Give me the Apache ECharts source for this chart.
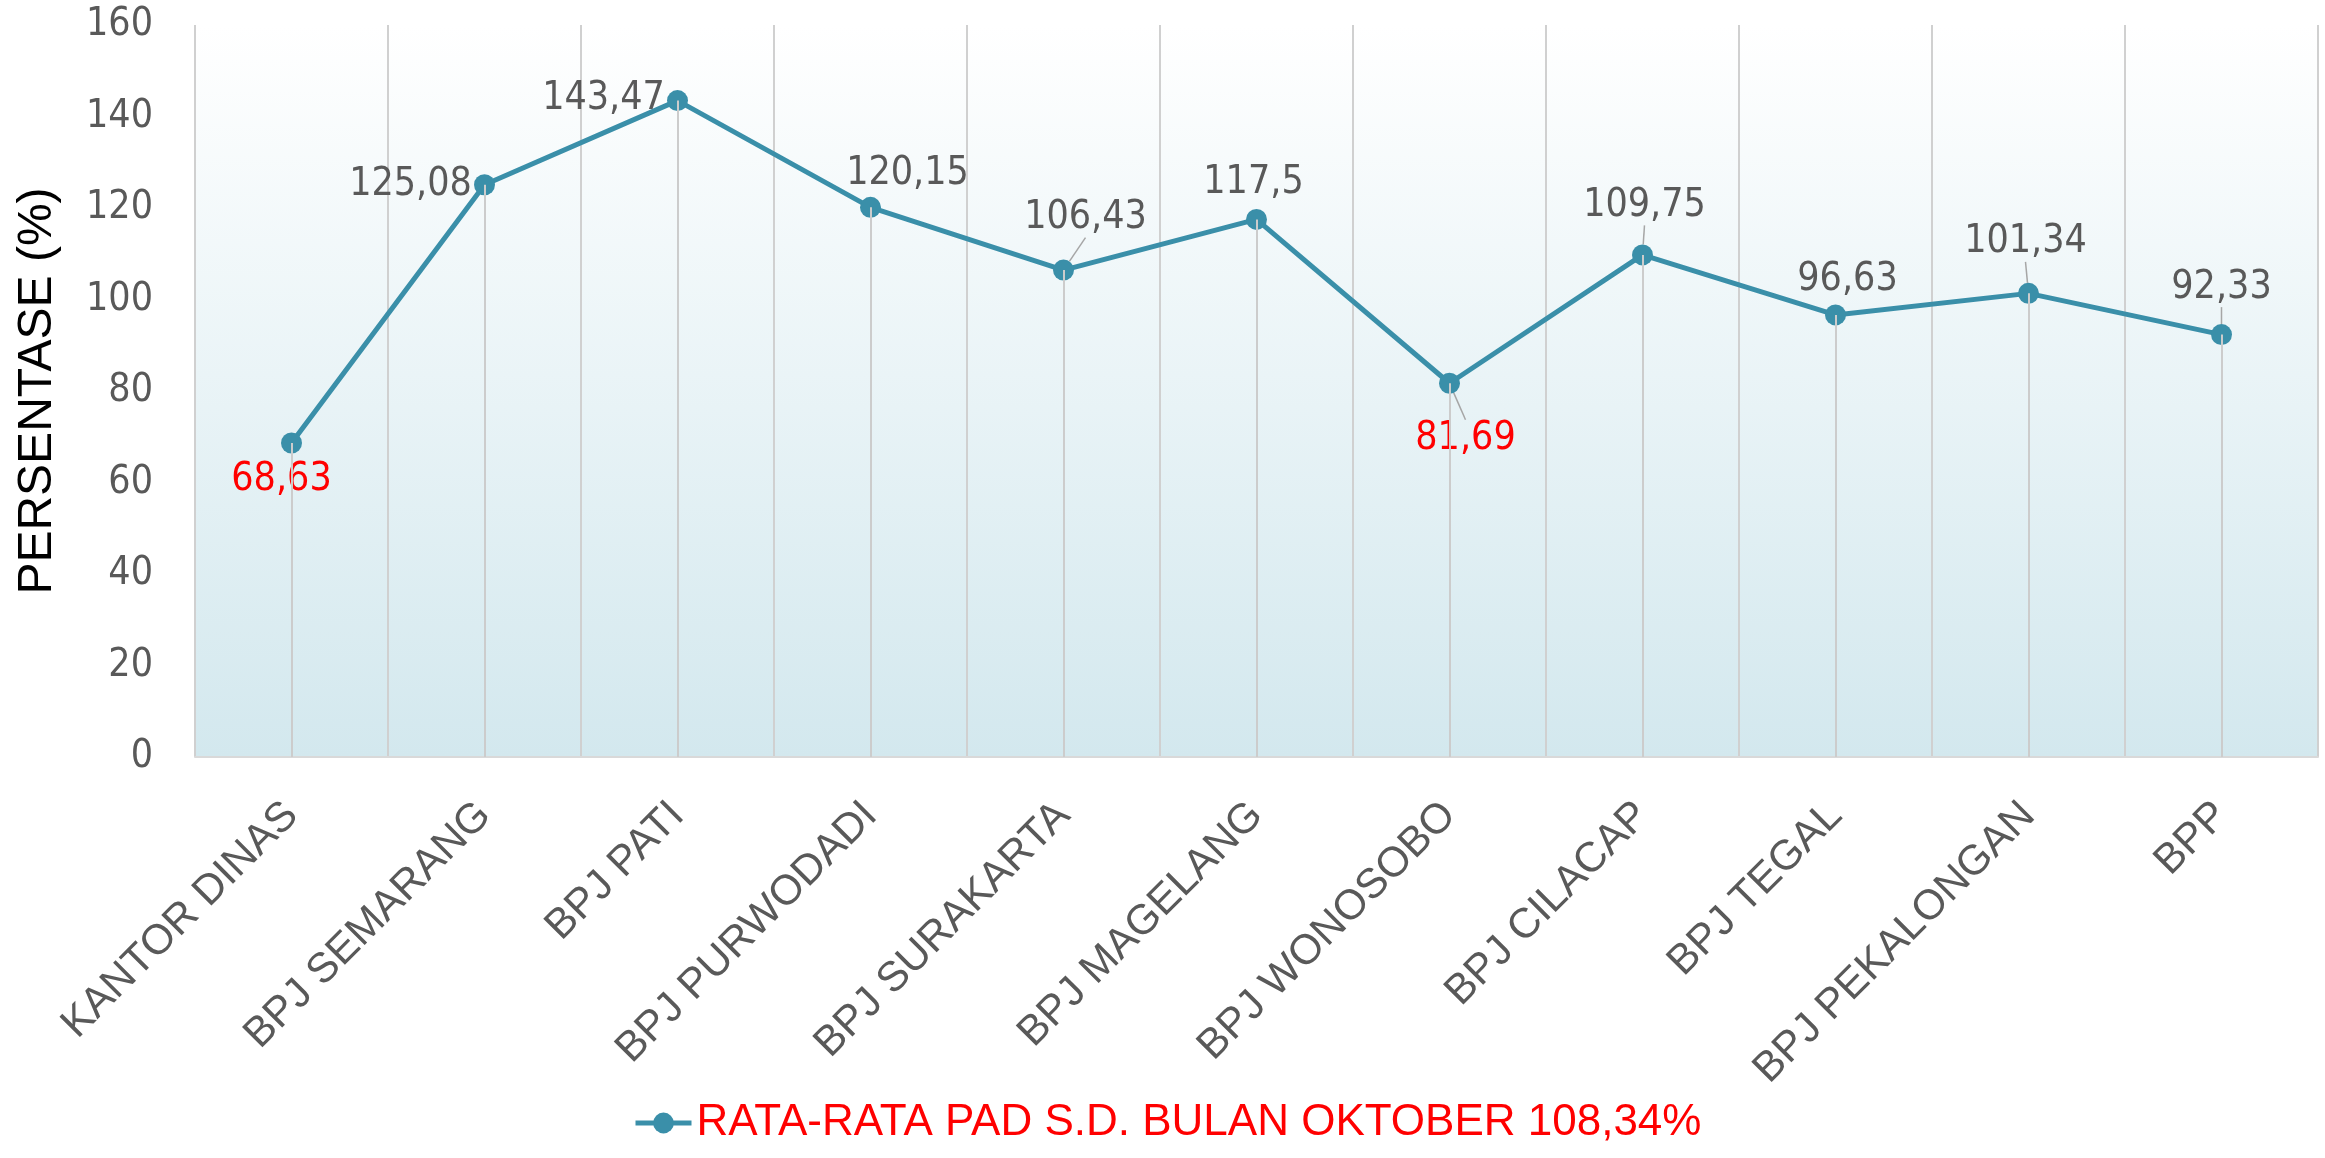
<!DOCTYPE html>
<html>
<head>
    <meta charset="utf-8">
    <title>Rata-rata PAD</title>
    <script src="https://cdn.jsdelivr.net/npm/echarts@6/dist/echarts.min.js"></script>
    <style>
        html, body { margin: 0; padding: 0; background: #fff; }
        #main { width: 2325px; height: 1158px; }
    </style>
</head>
<body>
    <div id="main"></div>
    <script type="text/javascript">
        var categories = ['KANTOR DINAS', 'BPJ SEMARANG', 'BPJ PATI', 'BPJ PURWODADI', 'BPJ SURAKARTA',
            'BPJ MAGELANG', 'BPJ WONOSOBO', 'BPJ CILACAP', 'BPJ TEGAL', 'BPJ PEKALONGAN', 'BPP'];
        var persen = [68.63, 125.08, 143.47, 120.15, 106.43, 117.5, 81.69, 109.75, 96.63, 101.34, 92.33];
        var yTicks = [0, 20, 40, 60, 80, 100, 120, 140, 160];
        var seriesName = 'RATA-RATA PAD S.D. BULAN OKTOBER 108,34%';
        var lowIdx = [0, 6];   // labels shown in red

        // label placement (px from the marker centre), and which ones get a leader line
        var labelShift = [[-10, 37], [-74, 0], [-74, -2], [37, -33], [22, -52], [-3, -37],
            [16, 56], [2, -49], [12, -35], [-3, -51], [0, -47]];
        var leader = [0, 0, 0, 0, 1, 0, 1, 1, 0, 1, 1];

        var numFont = '"DejaVu Sans Condensed", "DejaVu Sans", sans-serif';
        var txtFont = '"Liberation Sans", Arial, sans-serif';
        var teal = '#3a8fa9';

        var data = [];
        var drops = [];
        for (var i = 0; i < persen.length; i++) {
            var isLow = lowIdx.indexOf(i) >= 0;
            data.push({
                value: persen[i],
                label: { color: isLow ? '#ff0000' : '#595959' },
                labelLine: { show: leader[i] === 1 }
            });
            drops.push([{ coord: [categories[i], persen[i]] }, { coord: [categories[i], 0] }]);
        }

        var myChart = echarts.init(document.getElementById('main'));
        var option = {
            animation: false,
            legend: {
                bottom: 8,
                left: 628,
                itemWidth: 56,
                itemHeight: 26,
                lineStyle: { width: 5 },
                textStyle: { color: '#ff0000', fontSize: 44, fontFamily: txtFont },
                data: [seriesName]
            },
            grid: {
                left: 195, right: 7, top: 25, bottom: 401,
                outerBoundsMode: 'none',
                containLabel: false,
                show: true,
                borderWidth: 0,
                backgroundColor: new echarts.graphic.LinearGradient(0, 0, 0, 1, [
                    { offset: 0, color: '#ffffff' },
                    { offset: 1, color: '#d3e8ee' }
                ])
            },
            xAxis: {
                type: 'category',
                data: categories,
                boundaryGap: true,
                axisLine: { lineStyle: { color: '#d9d9d9', width: 2 } },
                axisTick: { show: false },
                splitLine: { show: true, lineStyle: { color: '#d0d0d0', width: 2 } },
                axisLabel: {
                    rotate: 45,
                    margin: 52,
                    interval: 0,
                    color: '#595959',
                    fontSize: 42,
                    fontFamily: txtFont
                }
            },
            yAxis: {
                type: 'value',
                min: yTicks[0],
                max: yTicks[yTicks.length - 1],
                interval: yTicks[1] - yTicks[0],
                name: 'PERSENTASE (%)',
                nameLocation: 'middle',
                nameGap: 133,
                nameTextStyle: { color: '#000', fontSize: 48, fontFamily: txtFont },
                axisLine: { show: false },
                axisTick: { show: false },
                splitLine: { show: false },
                axisLabel: { margin: 42, color: '#595959', fontSize: 39, fontFamily: numFont }
            },
            series: [{
                name: seriesName,
                type: 'line',
                data: data,
                symbol: 'circle',
                symbolSize: 21,
                itemStyle: { color: teal },
                lineStyle: { color: teal, width: 5 },
                label: {
                    show: true,
                    position: 'inside',
                    fontSize: 39,
                    fontFamily: numFont,
                    formatter: function (p) { return String(p.value).replace('.', ','); }
                },
                labelLayout: function (p) {
                    return { dx: labelShift[p.dataIndex][0], dy: labelShift[p.dataIndex][1] };
                },
                labelLine: {
                    lineStyle: { color: '#a6a6a6', width: 1.5 }
                },
                markLine: {
                    silent: true,
                    symbol: 'none',
                    label: { show: false },
                    lineStyle: { color: '#cccccc', width: 2, type: 'solid' },
                    data: drops
                }
            }]
        };
        myChart.setOption(option);
    </script>
</body>
</html>
